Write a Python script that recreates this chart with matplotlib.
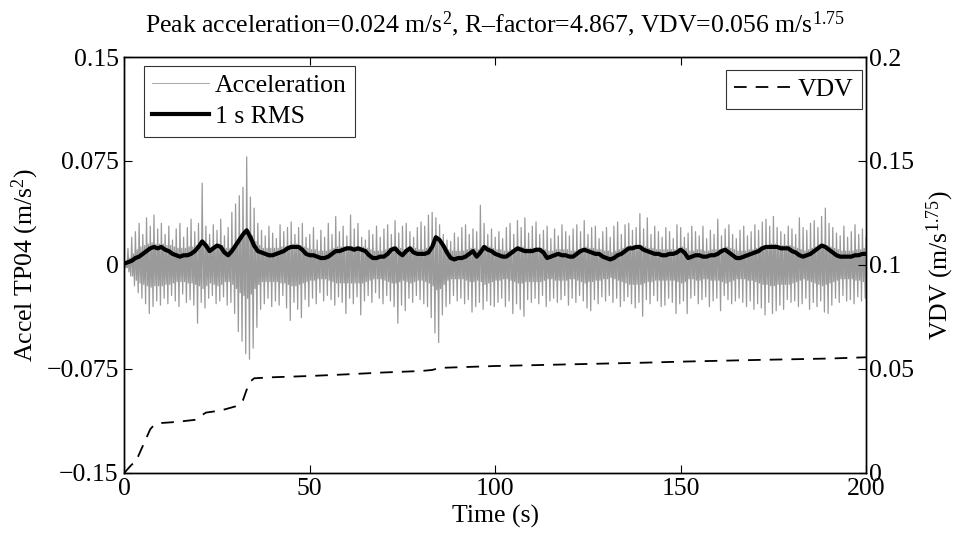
import numpy as np
import matplotlib
matplotlib.use("Agg")
import matplotlib.pyplot as plt

plt.rcParams['font.family'] = ['Liberation Serif', 'DejaVu Serif']
plt.rcParams['mathtext.fontset'] = 'custom'
plt.rcParams['mathtext.rm'] = 'Liberation Serif'
plt.rcParams['mathtext.it'] = 'Liberation Serif:italic'
plt.rcParams['mathtext.bf'] = 'Liberation Serif:bold'
plt.rcParams['path.simplify'] = False

# ---- data (acceleration in 1e-3 m/s^2, one value per second) ----
# largest positive excursion in each second
accel_upper = [
    3, 12, 20, 24, 30, 22, 34, 28, 36, 26,
    30, 22, 28, 18, 26, 30, 20, 27, 33, 24,
    30, 59, 28, 22, 29, 25, 33, 21, 27, 38,
    44, 50, 56, 78, 49, 41, 30, 25, 21, 28,
    23, 19, 29, 24, 27, 31, 22, 27, 30, 20,
    22, 27, 18, 25, 20, 30, 22, 35, 24, 28,
    21, 36, 26, 30, 20, 18, 25, 22, 28, 20,
    26, 29, 22, 32, 23, 28, 30, 24, 20, 27,
    31, 28, 36, 38, 34, 29, 22, 18, 17, 23,
    20, 27, 29, 22, 26, 24, 43, 30, 22, 26,
    20, 24, 19, 27, 30, 22, 32, 27, 34, 23,
    28, 31, 22, 25, 28, 19, 26, 21, 29, 24,
    21, 26, 29, 24, 32, 22, 27, 28, 19, 24,
    27, 20, 28, 31, 22, 29, 30, 25, 27, 37,
    26, 34, 22, 28, 24, 20, 27, 24, 19, 29,
    27, 20, 23, 28, 24, 21, 28, 19, 25, 22,
    33, 21, 26, 29, 22, 19, 25, 28, 21, 24,
    29, 25, 31, 33, 28, 35, 27, 24, 22, 28,
    26, 22, 34, 27, 25, 30, 32, 27, 35, 41,
    30, 27, 23, 21, 28, 20, 24, 29, 22, 26,
    20]
# largest negative excursion (magnitude) in each second
accel_lower = [
    2, 8, 15, 20, 24, 28, 35, 30, 26, 29,
    24, 28, 22, 26, 30, 21, 27, 25, 29, 42,
    27, 31, 24, 22, 28, 26, 23, 29, 27, 35,
    48, 55, 64, 68, 60, 45, 32, 28, 24, 30,
    26, 29, 22, 31, 40, 27, 32, 38, 25, 30,
    24, 28, 20, 26, 22, 25, 29, 23, 27, 35,
    24, 28, 23, 36, 26, 22, 27, 20, 24, 28,
    22, 26, 30, 42, 29, 33, 24, 27, 22, 25,
    28, 30, 38, 49, 56, 36, 30, 28, 22, 26,
    24, 28, 25, 34, 30, 27, 32, 26, 29, 30,
    27, 24, 30, 26, 35, 28, 32, 37, 25, 27,
    24, 28, 22, 30, 26, 24, 27, 25, 22, 29,
    24, 27, 22, 26, 31, 33, 25, 28, 23, 26,
    22, 27, 24, 30, 26, 23, 28, 31, 27, 37,
    25, 28, 22, 26, 30, 29, 24, 27, 35, 28,
    26, 35, 24, 22, 28, 25, 23, 30, 26, 24,
    33, 22, 25, 28, 26, 24, 27, 30, 26, 32,
    28, 31, 36, 27, 35, 33, 29, 32, 25, 27,
    26, 30, 28, 24, 32, 27, 30, 26, 34, 35,
    29, 24, 27, 22, 26, 25, 28, 23, 26, 24,
    20]
# typical (dense band) amplitude in each second
accel_core = [
    2, 5, 8, 11, 13, 14, 15, 16, 15, 15,
    15, 14, 14, 13, 12, 12, 12, 13, 13, 14,
    15, 17, 15, 13, 14, 15, 14, 12, 12, 14,
    17, 20, 22, 24, 21, 17, 14, 12, 12, 12,
    12, 12, 13, 13, 14, 15, 15, 14, 13, 12,
    11, 11, 10, 10, 10, 11, 12, 13, 13, 13,
    13, 13, 13, 13, 13, 12, 11, 10, 10, 10,
    11, 12, 13, 13, 12, 11, 12, 13, 12, 11,
    11, 12, 13, 15, 18, 17, 14, 11, 10, 10,
    10, 10, 11, 12, 12, 11, 12, 14, 13, 12,
    11, 11, 10, 10, 11, 12, 13, 13, 12, 12,
    12, 12, 12, 11, 10, 10, 11, 11, 11, 11,
    10, 10, 11, 12, 13, 12, 12, 11, 11, 10,
    10, 9, 10, 11, 12, 13, 14, 14, 14, 14,
    13, 12, 12, 11, 11, 11, 11, 11, 11, 12,
    13, 12, 10, 10, 11, 11, 10, 10, 11, 11,
    11, 12, 13, 12, 11, 10, 10, 10, 11, 11,
    12, 13, 14, 14, 15, 15, 14, 14, 14, 14,
    13, 12, 11, 10, 11, 12, 13, 14, 15, 14,
    13, 12, 11, 10, 10, 10, 10, 11, 11, 12,
    12]
rms_1s = [
    1, 2, 3, 5, 6, 8, 10, 12, 13, 12,
    13, 11, 10, 8, 7, 6, 7, 7, 8, 10,
    13, 17, 14, 10, 12, 14, 13, 9, 7, 10,
    14, 18, 22, 25, 20, 14, 10, 9, 8, 7,
    7, 8, 9, 10, 12, 13, 13, 13, 11, 8,
    7, 7, 6, 5, 5, 6, 8, 10, 10, 11,
    12, 12, 11, 12, 11, 10, 7, 5, 5, 6,
    6, 8, 11, 12, 9, 7, 10, 12, 9, 8,
    8, 8, 9, 13, 20, 18, 14, 9, 5, 4,
    5, 5, 6, 8, 10, 6, 9, 13, 11, 10,
    8, 7, 6, 6, 8, 10, 12, 11, 10, 10,
    10, 11, 11, 9, 5, 6, 7, 8, 7, 7,
    6, 6, 8, 10, 11, 10, 9, 8, 8, 6,
    5, 4, 5, 7, 8, 10, 12, 12, 13, 13,
    11, 10, 9, 8, 8, 7, 7, 8, 8, 9,
    11, 9, 5, 6, 7, 7, 6, 6, 7, 7,
    8, 10, 11, 9, 7, 5, 5, 6, 7, 8,
    9, 10, 12, 13, 13, 13, 13, 12, 12, 12,
    10, 9, 7, 6, 7, 8, 10, 12, 14, 13,
    11, 9, 7, 6, 6, 6, 6, 7, 7, 8,
    8]
vdv_time = [0, 1, 2, 3, 4, 5, 6, 7, 8, 10, 14, 19, 22, 26, 30, 31, 32, 33, 34, 35,
            40, 50, 60, 70, 80, 83, 85, 90, 100, 120, 140, 150, 170, 190, 200]
vdv_value = [0, 0.002, 0.004, 0.005, 0.009, 0.013, 0.017, 0.021, 0.023, 0.024, 0.0245,
             0.0255, 0.029, 0.030, 0.032, 0.033, 0.035, 0.040, 0.044, 0.0455, 0.046,
             0.0466, 0.0474, 0.0483, 0.049, 0.0495, 0.0505, 0.0508, 0.0514, 0.0522,
             0.053, 0.0535, 0.0543, 0.055, 0.0556]

# ---- build series: four samples per second ----
sec = np.arange(len(accel_upper), dtype=float)
up = np.array(accel_upper) * 1e-3
lo = np.array(accel_lower) * 1e-3
co = np.array(accel_core) * 1e-3
acc_t = np.column_stack([sec, sec + 0.25, sec + 0.5, sec + 0.75]).ravel()
acc_v = np.column_stack([up, -co, co, -lo]).ravel()
rms_t = np.arange(len(rms_1s), dtype=float)
rms_v = np.array(rms_1s) * 1e-3

fig = plt.figure(figsize=(9.56, 5.38), dpi=100)
ax = fig.add_axes([0.130, 0.121, 0.776, 0.773])
ax2 = ax.twinx()

l1, = ax.plot(acc_t, acc_v, color='#9a9a9a', lw=0.9, label='Acceleration')
l2, = ax.plot(rms_t, rms_v, color='black', lw=3.0, label='1 s RMS')
l3, = ax2.plot(vdv_time, vdv_value, color='black', lw=1.3, ls=(0, (7, 5)), label='VDV')

fs = 18.5
ax.set_xlim(0, 200)
ax.set_ylim(-0.15, 0.15)
ax2.set_ylim(0, 0.2)
ax.set_xticks([0, 50, 100, 150, 200])
ax.set_yticks([-0.15, -0.075, 0, 0.075, 0.15])
ax.set_yticklabels(['\u22120.15', '\u22120.075', '0', '0.075', '0.15'])
ax2.set_yticks([0, 0.05, 0.1, 0.15, 0.2])
ax2.set_yticklabels(['0', '0.05', '0.1', '0.15', '0.2'])
ax.tick_params(axis='x', direction='in', length=6, width=0.8, labelsize=fs, top=True, pad=4)
ax.tick_params(axis='y', direction='in', length=6, width=0.8, labelsize=fs, pad=4)
ax2.tick_params(direction='in', length=6, width=0.8, labelsize=fs, pad=2)
for a in (ax, ax2):
    for s in a.spines.values():
        s.set_linewidth(1.0)

ax.set_xlabel('Time (s)', fontsize=fs, labelpad=3)
ax.set_ylabel('Accel TP04 (m/s$^2$)', fontsize=fs, labelpad=4)
ax2.set_ylabel('VDV (m/s$^{1.75}$)', fontsize=fs, labelpad=8)
ax.set_title('Peak acceleration=0.024 m/s$^2$, R\u2013factor=4.867, VDV=0.056 m/s$^{1.75}$',
             fontsize=fs, pad=18)

leg1 = ax.legend(handles=[l1, l2], loc='upper left', bbox_to_anchor=(144 / 956, 1 - 66 / 538),
                 bbox_transform=fig.transFigure, borderaxespad=0,
                 fontsize=fs, frameon=True, fancybox=False, edgecolor='black',
                 handlelength=2.2, handletextpad=0.25, borderpad=0.32, labelspacing=0.32)
leg1.get_frame().set_linewidth(0.8)
leg1.legend_handles[0].set_linewidth(0.6)
leg2 = ax2.legend(handles=[l3], loc='upper right', bbox_to_anchor=(862 / 956, 1 - 70 / 538),
                  bbox_transform=fig.transFigure, borderaxespad=0,
                  fontsize=fs, frameon=True, fancybox=False, edgecolor='black',
                  handlelength=2.2, handletextpad=0.3, borderpad=0.32)
leg2.get_frame().set_linewidth(0.8)

fig.savefig('out.png', dpi=100)
